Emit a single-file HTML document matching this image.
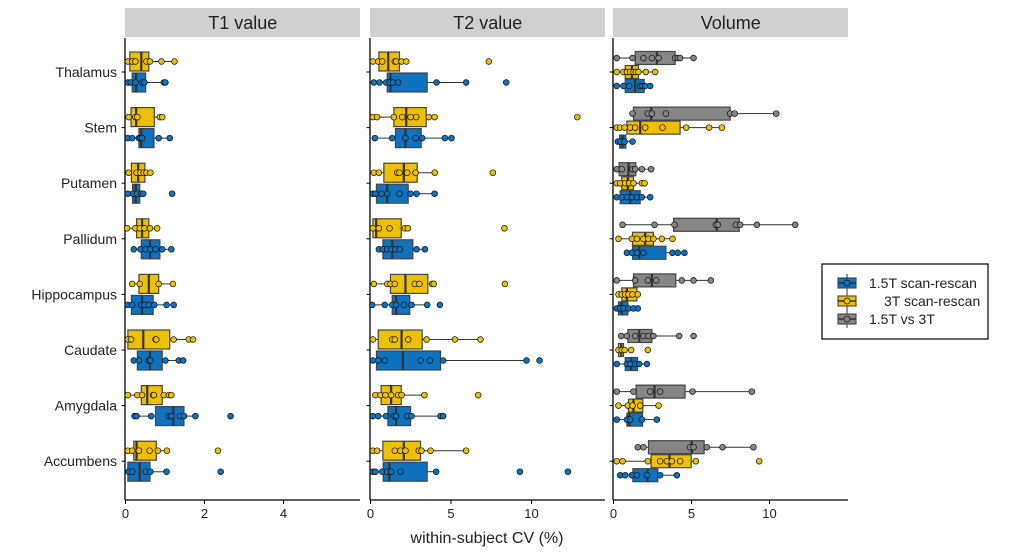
<!DOCTYPE html>
<html><head><meta charset="utf-8"><style>
body{margin:0;background:#fff;}
svg{display:block;font-family:"Liberation Sans",Arial,sans-serif;}
</style></head><body>
<svg id="chart" width="1016" height="556" viewBox="0 0 1016 556"></svg>
<script>
const regions = ["Thalamus","Stem","Putamen","Pallidum","Hippocampus","Caudate","Amygdala","Accumbens"];
const panelTitles = ["T1 value","T2 value","Volume"];
const ticksP1 = [0,2,4];
const ticksP2 = [0,5,10];
const ticksP3 = [0,5,10];
// boxes: [q1, median, q3] per region, per panel, per group
const t1_yellow_box = [[0.11,0.40,0.59],[0.14,0.27,0.73],[0.15,0.32,0.49],[0.28,0.42,0.59],[0.34,0.59,0.84],[0.06,0.45,1.12],[0.40,0.55,0.93],[0.21,0.28,0.78]];
const t1_yellow_pts = [[0.06,0.17,0.25,0.53,0.62,0.91,1.24],[0.08,0.25,0.30,0.87,0.93],[0.08,0.28,0.38,0.46,0.53,0.63],[0.04,0.25,0.36,0.48,0.62,0.80],[0.17,0.36,0.84,1.20],[0.06,0.14,0.76,0.78,1.22,1.60,1.71],[0.06,0.30,0.42,0.70,0.72,0.97,1.10,1.16],[0.06,0.17,0.34,0.61,0.82,1.05,2.34]];
const t1_blue_box = [[0.17,0.27,0.51],[0.34,0.40,0.72],[0.18,0.26,0.36],[0.40,0.62,0.87],[0.15,0.42,0.70],[0.30,0.62,0.93],[0.76,1.21,1.48],[0.06,0.36,0.62]];
const t1_blue_pts = [[0.06,0.13,0.25,0.42,0.48,0.97,1.01],[0.06,0.17,0.34,0.38,0.42,0.84,1.12],[0.06,0.19,0.29,0.40,0.45,1.18],[0.21,0.38,0.51,0.63,0.76,0.93,1.16],[0.06,0.17,0.40,0.48,0.59,0.73,1.04,1.22],[0.21,0.34,0.59,0.63,1.01,1.35,1.46],[0.23,0.28,0.65,1.10,1.16,1.38,1.48,1.77,2.66],[0.08,0.17,0.51,0.63,1.04,2.41]];
const t2_yellow_box = [[0.52,1.10,1.80],[1.45,2.22,3.46],[0.83,2.07,2.90],[0.15,0.35,1.91],[1.24,2.17,3.56],[0.48,1.93,3.21],[0.66,1.28,1.91],[0.77,2.07,3.11]];
const t2_yellow_pts = [[0.15,0.48,0.73,1.51,1.59,1.93,2.22,7.35],[0.15,0.41,1.45,1.97,2.49,2.84,3.62,3.98,12.84],[0.21,0.52,1.66,1.80,2.28,2.80,3.99,7.60],[0.15,0.52,1.18,2.13,2.32,8.32],[0.21,1.04,1.24,1.51,2.75,3.04,3.83,3.93,8.35],[0.15,1.35,1.51,2.34,3.48,5.24,6.83],[0.31,0.62,0.93,1.28,1.72,1.93,3.35,6.69],[0.15,0.41,1.51,1.86,2.17,3.00,3.17,3.73,5.94]];
const t2_blue_box = [[1.04,1.24,3.52],[1.55,2.17,3.15],[0.37,1.04,2.34],[0.77,1.35,2.63],[1.35,1.59,2.44],[0.37,2.01,4.35],[1.08,1.59,2.49],[0.79,1.18,3.52]];
const t2_blue_pts = [[0.21,0.56,0.97,1.18,1.39,1.72,4.10,5.94,8.43],[0.27,1.35,2.17,2.80,3.21,4.62,5.03],[0.15,0.31,0.68,1.04,1.80,2.49,2.86,3.98],[0.52,0.77,1.04,1.30,1.55,1.82,2.86,3.38],[0.10,0.89,1.35,1.59,2.07,2.55,3.52,4.31],[0.15,0.48,0.89,3.11,3.69,4.51,9.69,10.50],[0.15,0.48,0.97,1.45,1.59,2.28,2.55,4.35,4.51],[0.15,0.31,0.73,1.04,1.28,1.86,4.08,9.28,12.26]];
const vol_grey_box = [[1.39,2.78,3.95],[1.28,2.42,7.48],[0.36,0.96,1.43],[3.85,6.62,8.06],[1.28,2.46,3.99],[0.92,1.65,2.46],[1.45,2.63,4.59],[2.24,5.02,5.81]];
const vol_grey_pts = [[0.21,1.22,1.92,2.46,2.89,3.95,4.12,4.27,5.13],[1.22,2.20,2.46,3.36,7.48,7.76,10.43],[0.21,0.53,1.22,1.39,1.82,2.41],[0.58,2.63,3.91,6.56,6.69,7.84,8.12,9.19,11.65],[0.21,1.39,2.20,2.74,4.38,5.13,6.24],[0.49,0.86,1.39,1.92,2.24,2.56,4.21,5.13],[0.21,1.28,2.35,2.99,5.06,8.87],[1.56,1.92,4.91,5.13,5.98,6.99,8.97]];
const vol_yellow_box = [[0.75,1.18,1.60],[0.86,1.71,4.27],[0.53,0.92,1.28],[1.22,2.03,2.56],[0.53,0.86,1.50],[0.32,0.49,0.64],[0.96,1.28,1.88],[2.41,3.59,4.98]];
const vol_yellow_pts = [[0.21,0.64,0.86,1.07,1.28,1.43,1.60,2.07,2.67],[0.21,0.43,0.71,1.07,1.39,2.03,3.14,4.66,6.13,6.95],[0.21,0.43,0.75,1.01,1.28,1.82,1.99],[0.32,1.18,1.50,1.92,2.24,2.56,3.10,3.78],[0.32,0.53,0.75,0.96,1.22,1.56],[0.32,0.53,0.71,1.13,2.20],[0.32,0.92,1.22,1.71,2.89],[0.21,0.58,2.20,2.99,3.42,3.74,4.27,5.28,9.34]];
const vol_blue_box = [[0.75,1.39,1.97],[0.39,0.58,0.79],[0.43,1.07,1.71],[1.22,1.65,3.36],[0.32,0.53,0.92],[0.75,1.13,1.54],[0.86,1.01,1.86],[1.24,2.18,2.84]];
const vol_blue_pts = [[0.21,0.64,1.01,1.71,1.86,2.03,2.35],[0.28,0.43,0.71,1.22],[0.21,0.53,0.86,1.18,1.50,1.82,2.35],[0.86,1.18,1.50,1.92,3.78,4.12,4.55],[0.21,0.43,0.64,0.96,1.28,1.56],[0.21,0.86,1.07,1.39,1.65,2.14],[0.21,0.86,1.07,1.82,2.78],[0.43,0.75,1.18,1.50,2.14,2.99,4.06]];

const NS="http://www.w3.org/2000/svg";
const svg=document.getElementById('chart');
function mk(tag,attrs,parent){const e=document.createElementNS(NS,tag);for(const k in attrs)e.setAttribute(k,attrs[k]);(parent||svg).appendChild(e);return e;}
const COL={blue:"#0F72BF",yellow:"#EFC000",grey:"#868686"};
const plotTop=38, plotBot=500, rowY0=72, rowStep=55.6;
function yRow(i){return rowY0+i*rowStep;}
const panels=[
 {x0:125.5,x1:360,scale:39.5,ticks:ticksP1,groups:[{box:t1_yellow_box,pts:t1_yellow_pts,c:COL.yellow,off:-10.5,h:19,name:'3t'},{box:t1_blue_box,pts:t1_blue_pts,c:COL.blue,off:10.5,h:19,name:'15t'}]},
 {x0:370.5,x1:605,scale:16.1,ticks:ticksP2,groups:[{box:t2_yellow_box,pts:t2_yellow_pts,c:COL.yellow,off:-10.5,h:19,name:'3t'},{box:t2_blue_box,pts:t2_blue_pts,c:COL.blue,off:10.5,h:19,name:'15t'}]},
 {x0:613.5,x1:848,scale:15.6,ticks:ticksP3,groups:[{box:vol_grey_box,pts:vol_grey_pts,c:COL.grey,off:-14,h:13,name:'15t-vs-3t'},{box:vol_yellow_box,pts:vol_yellow_pts,c:COL.yellow,off:0,h:13,name:'3t'},{box:vol_blue_box,pts:vol_blue_pts,c:COL.blue,off:14,h:13,name:'15t'}]}
];
panels.forEach((p,pi)=>{
  const xs=v=>p.x0+v*p.scale;
  const g=mk('g',{});
  
  
  const strip=mk('rect',{x:p.x0-0.5,y:8,width:p.x1-p.x0+0.5,height:29,fill:'#D0D0D0'},g);
  
  
  const st=mk('text',{x:(p.x0+p.x1)/2,y:29,'text-anchor':'middle','font-size':18,fill:'#222'},g);
  st.textContent=panelTitles[pi];
  
  
  // axes
  const ax=mk('line',{x1:p.x0-0.5,y1:plotTop,x2:p.x0-0.5,y2:plotBot,stroke:'#000','stroke-width':1.3},g);
  
  
  const bx=mk('line',{x1:p.x0-0.5,y1:plotBot,x2:p.x1,y2:plotBot,stroke:'#000','stroke-width':1.3},g);
  
  
  p.ticks.forEach(t=>{
    mk('line',{x1:xs(t),y1:plotBot,x2:xs(t),y2:plotBot+4,stroke:'#000','stroke-width':1},g);
    const tl=mk('text',{x:xs(t),y:plotBot+18,'text-anchor':'middle','font-size':13,fill:'#222'},g);
    tl.textContent=t;
    
    
  });
  regions.forEach((r,i)=>{
    mk('line',{x1:p.x0-4,y1:yRow(i),x2:p.x0-0.5,y2:yRow(i),stroke:'#000','stroke-width':1},g);
    if(pi===0){
      const yl=mk('text',{x:117,y:yRow(i)+5,'text-anchor':'end','font-size':14,fill:'#222'},g);
      yl.textContent=r;
      
      
    }
    p.groups.forEach(gr=>{
      const [q1,med,q3]=gr.box[i]; const pts=gr.pts[i];
      const iqr=q3-q1, lo=q1-1.5*iqr, hi=q3+1.5*iqr;
      const inl=pts.filter(v=>v>=lo&&v<=hi);
      const wl=Math.min(q1,...inl), wh=Math.max(q3,...inl);
      const cy=yRow(i)+gr.off;
      const wg=mk('g',{},g);
      
      
      mk('line',{x1:xs(wl),y1:cy,x2:xs(q1),y2:cy,stroke:'#333','stroke-width':1},wg);
      mk('line',{x1:xs(q3),y1:cy,x2:xs(wh),y2:cy,stroke:'#333','stroke-width':1},wg);
      mk('rect',{x:xs(q1),y:cy-gr.h/2,width:Math.max(0.5,xs(q3)-xs(q1)),height:gr.h,fill:gr.c,stroke:'#444','stroke-width':1.2},wg);
      mk('line',{x1:xs(med),y1:cy-gr.h/2,x2:xs(med),y2:cy+gr.h/2,stroke:'#333','stroke-width':2.2},wg);
      pts.forEach(v=>{
        const c=mk('circle',{cx:xs(v),cy:cy,r:2.9,fill:gr.c,stroke:'#111','stroke-width':0.7},wg);
        
        
      });
    });
  });
});
const xt=mk('text',{x:487,y:543,'text-anchor':'middle','font-size':16,fill:'#222'});
xt.textContent='within-subject CV (%)';


// legend
const lg=mk('g',{});


mk('rect',{x:822,y:264,width:166,height:75,fill:'#fff',stroke:'#000','stroke-width':1.2},lg);
const legItems=[["1.5T scan-rescan",COL.blue,869],["3T scan-rescan",COL.yellow,884],["1.5T vs 3T",COL.grey,869]];
legItems.forEach((it,k)=>{
  const cy=283+k*18;
  const e=mk('g',{},lg);
  
  
  mk('line',{x1:847,y1:cy-9,x2:847,y2:cy+9,stroke:'#333','stroke-width':1},e);
  mk('rect',{x:838,y:cy-5,width:18,height:10,fill:it[1],stroke:'#444','stroke-width':1.1},e);
  mk('line',{x1:838,y1:cy,x2:856,y2:cy,stroke:'#333','stroke-width':1.6},e);
  mk('circle',{cx:847,cy:cy,r:3,fill:it[1],stroke:'#111','stroke-width':0.7},e);
  const t=mk('text',{x:it[2],y:cy+5,'font-size':14,fill:'#222'},e);
  t.textContent=it[0];
});
</script>
</body></html>
